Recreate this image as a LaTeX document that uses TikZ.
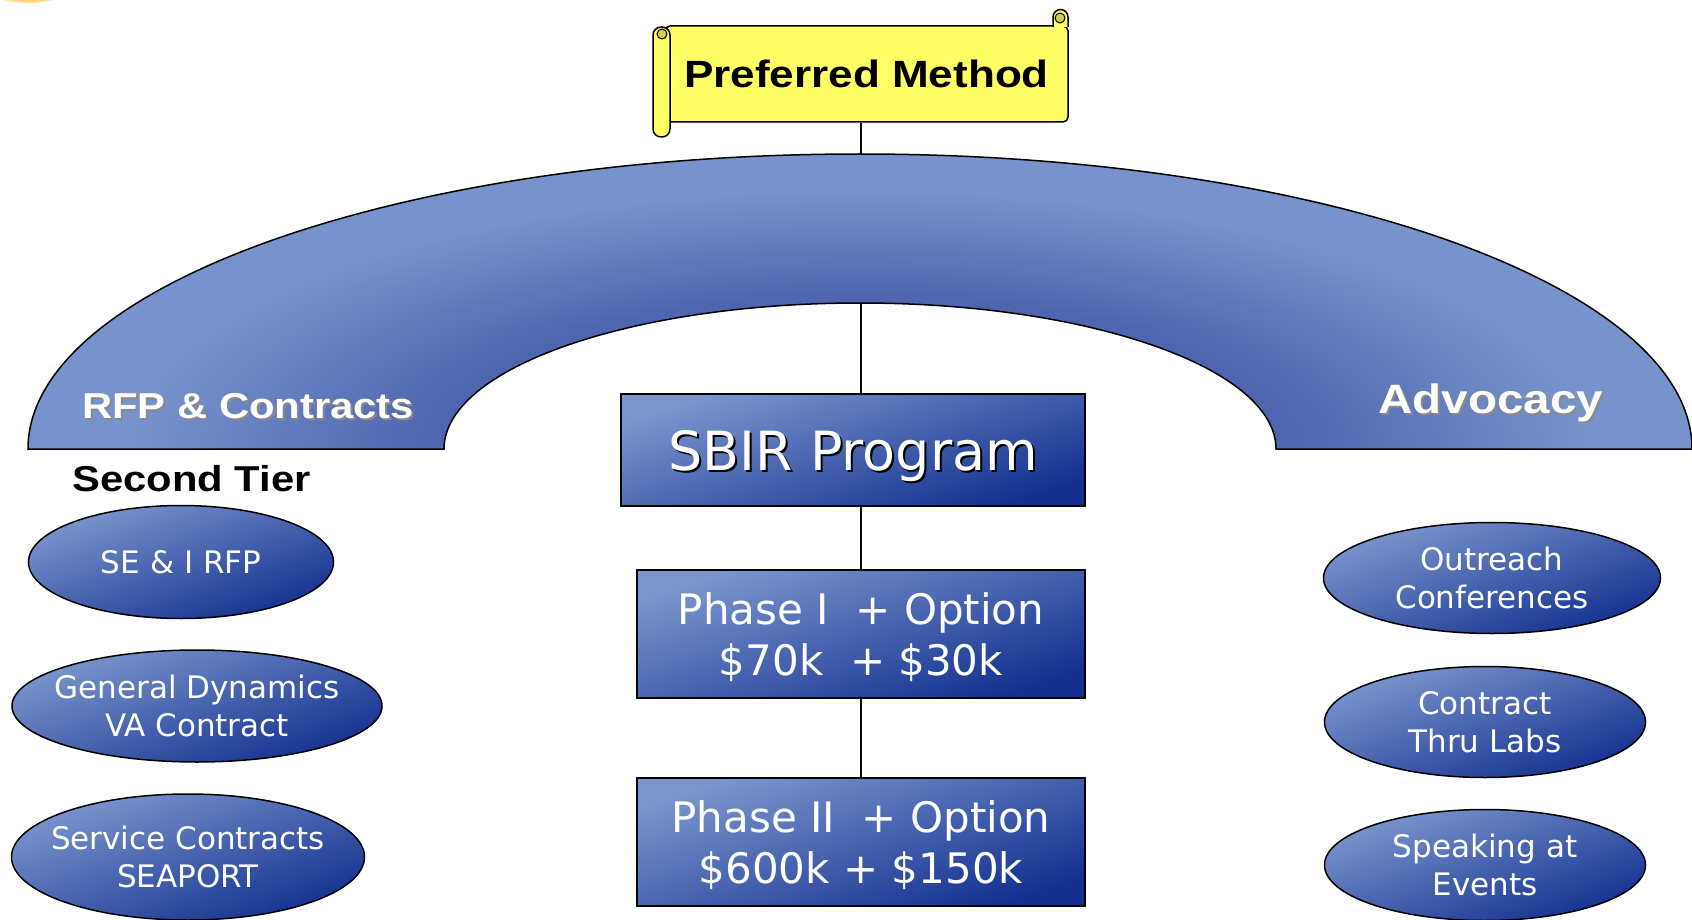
\documentclass[tikz,border=0pt]{standalone}
\usepackage{fontspec}
\setmainfont{DejaVu Sans}
\newfontfamily\headfont{Liberation Sans}[FakeStretch=1.16]
\usepackage{tikz}
\usetikzlibrary{shapes.geometric,positioning}

\definecolor{archlight}{HTML}{7893CB}
\definecolor{archdark}{HTML}{4F65AF}
\definecolor{boxlight}{HTML}{7C96CD}
\definecolor{boxdark}{HTML}{13308F}
\definecolor{scrollyellow}{HTML}{FFFF66}
\definecolor{curlolive}{HTML}{CDCD50}
\definecolor{shadowgray}{HTML}{8A8A8A}
\definecolor{blobgold}{HTML}{F7B000}

% band gets darker towards its inner edge
\pgfdeclareradialshading{archglow}{\pgfpoint{0bp}{0bp}}{color(0bp)=(archdark); color(13bp)=(archdark); color(22bp)=(archlight); color(50bp)=(archlight)}

\newcommand{\shadowed}[2]{\rlap{\kern2pt\raisebox{-2pt}{\textcolor{#1}{#2}}}#2}

\tikzset{
  stem/.style={line width=1.5pt},
  phasebox/.style={draw, line width=1.6pt, top color=boxlight, bottom color=boxdark, shading angle=18, text=white, align=center, inner sep=0pt},
  blob/.style={ellipse, draw, line width=1.5pt, top color=boxlight, bottom color=boxdark, shading angle=20, inner sep=0pt},
  blobtext/.style={text=white, align=center, text depth=0pt, font=\fontsize{31}{38}\selectfont},
  headline/.style={inner sep=0pt, font=\headfont\bfseries\fontsize{#1}{#1}\selectfont},
  scrollpaint/.style={draw, fill=scrollyellow, line width=1.5pt},
}

\begin{document}
\begin{tikzpicture}[x=1pt, y=-1pt]
    \useasboundingbox (0,0) rectangle (1692,920);

    \shade[inner color=blobgold, outer color=blobgold!25] (28,-4) ellipse [x radius=30, y radius=7];

    % the big arch
    \begin{scope}
        \clip (28,449) arc[start angle=180, end angle=360, x radius=832, y radius=295]
            -- (1276,449) arc[start angle=0, end angle=-180, x radius=416, y radius=146] -- cycle;
        \shade[shading=archglow] (860,449) ellipse [x radius=832, y radius=295];
    \end{scope}
    \draw[line width=1.5pt] (28,449) arc[start angle=180, end angle=360, x radius=832, y radius=295]
        -- (1276,449) arc[start angle=0, end angle=-180, x radius=416, y radius=146] -- cycle;

    \node[headline=36, text=white, anchor=base west] (rfp) at (82,418) {\shadowed{shadowgray}{RFP \& Contracts}};
    \node[headline=41, text=white, anchor=base west] (advocacy) at (1378,413) {\shadowed{shadowgray}{Advocacy}};
    \node[headline=36, anchor=base west] (tier) at (72,491) {Second Tier};

    % scroll banner
    \node[scrollpaint, rounded corners=5pt, minimum width=403pt, minimum height=96pt, headline=38] (pref) at (866.5,74) {Preferred Method};
    \draw[scrollpaint] (1053,27) -- (1053,17) arc[start angle=180, end angle=360, radius=7.5] -- (1068,27);
    \draw[fill=curlolive, line width=1pt] (1060,18) circle (5);
    \draw[scrollpaint, rounded corners=8pt] (653,27) rectangle (670,137);
    \draw[fill=curlolive, line width=1pt] (662,34) circle (5);

    % SBIR column
    \node[phasebox, minimum width=464pt, minimum height=112pt, font=\fontsize{54}{60}\selectfont, text depth=0pt] (sbir) at (853,450) {\shadowed{black}{SBIR Program}};
    \node[phasebox, minimum width=448pt, minimum height=128pt, font=\fontsize{42}{51}\selectfont, text depth=0pt] (phase1) at (861,634) {Phase I\ \ + Option\\\$70k\ \ + \$30k};
    \node[phasebox, minimum width=448pt, minimum height=128pt, font=\fontsize{42}{51}\selectfont, text depth=0pt] (phase2) at (861,842) {Phase II\ \ + Option\\\$600k + \$150k};

    \coordinate (archtop) at (861,154);
    \coordinate (archin) at (861,303);
    \draw[stem] (pref.south -| archtop) -- (archtop);
    \draw[stem] (archin) -- (sbir.north -| archin);
    \draw[stem] (sbir.south -| archin) -- (phase1.north);
    \draw[stem] (phase1) -- (phase2);

    % second tier, left
    \node[blob, minimum width=305pt, minimum height=113pt, label={[blobtext]center:SE \& I RFP}] (seirfp) at (181,562) {};
    \node[blob, minimum width=370pt, minimum height=112pt, label={[blobtext]center:{General Dynamics\\VA Contract}}] (gendyn) at (197,706) {};
    \node[blob, minimum width=353pt, minimum height=126pt, label={[blobtext]center:{Service Contracts\\SEAPORT}}] (seaport) at (188,857) {};

    % advocacy, right
    \node[blob, minimum width=337pt, minimum height=111pt, label={[blobtext]center:{Outreach\\Conferences}}] (outreach) at (1492,578) {};
    \node[blob, minimum width=321pt, minimum height=111pt, label={[blobtext]center:{Contract\\Thru Labs}}] (labs) at (1485,722) {};
    \node[blob, minimum width=321pt, minimum height=111pt, label={[blobtext]center:{Speaking at\\Events}}] (speaking) at (1485,865) {};
\end{tikzpicture}
\end{document}
